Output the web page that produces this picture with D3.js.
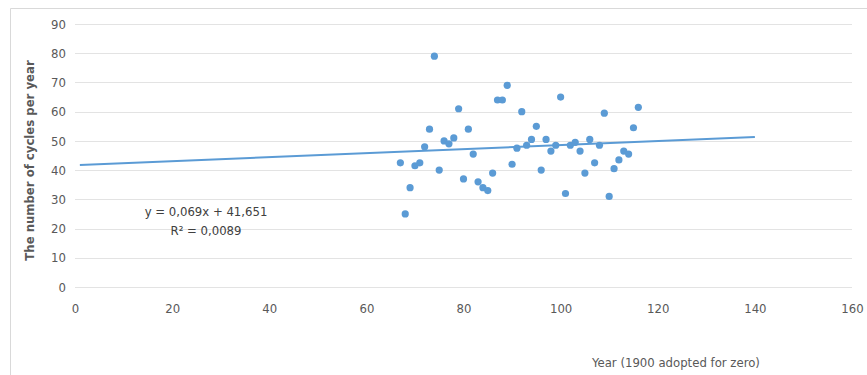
<!DOCTYPE html>
<html>
<head>
<meta charset="utf-8">
<script src="https://cdn.jsdelivr.net/npm/d3@7"></script>
<style>
  body { margin: 0; background: #fff; }
  svg text { font-family: "Liberation Sans Narrow", "DejaVu Sans Condensed", sans-serif; fill: #595959; }
</style>
</head>
<body>
<div id="chart"></div>
<script>
// Year offset from 1900 and number of cycles in that year
const years = [67, 68, 69, 70, 71, 72, 73, 74, 75, 76, 77, 78, 79, 80, 81, 82, 83, 84, 85, 86,
  87, 88, 89, 90, 91, 92, 93, 94, 95, 96, 97, 98, 99, 100, 101, 102, 103, 104, 105, 106,
  107, 108, 109, 110, 111, 112, 113, 114, 115, 116];
const cycles = [42.5, 25, 34, 41.5, 42.5, 48, 54, 79, 40, 50, 49, 51, 61, 37, 54, 45.5, 36, 34, 33, 39,
  64, 64, 69, 42, 47.5, 60, 48.5, 50.5, 55, 40, 50.5, 46.5, 48.5, 65, 32, 48.5, 49.5, 46.5, 39, 50.5,
  42.5, 48.5, 59.5, 31, 40.5, 43.5, 46.5, 45.5, 54.5, 61.5];

const xTicks = [0, 20, 40, 60, 80, 100, 120, 140, 160];
const yTicks = [0, 10, 20, 30, 40, 50, 60, 70, 80, 90];

// linear trend reported on the chart
const slope = 0.069, intercept = 41.651;
const trendRange = [1, 140];
const eqLines = ["y = 0,069x + 41,651", "R² = 0,0089"];

const width = 867, height = 375;
const svg = d3.select('#chart').append('svg')
    .attr('width', width)
    .attr('height', height);

// outer frame (only top and left edges visible in the crop)
svg.append('path')
    .attr('d', `M10.5,${height} L10.5,8.5 L${width},8.5`)
    .attr('fill', 'none')
    .attr('stroke', '#d9d9d9');

const x = d3.scaleLinear().domain([0, 160]).range([75, 852]);
const y = d3.scaleLinear().domain([0, 90]).range([287, 24]);

// horizontal gridlines
svg.append('g')
    .selectAll('line')
    .data(yTicks)
    .enter()
    .append('line')
    .attr('x1', x(0))
    .attr('x2', x(160))
    .attr('y1', d => Math.round(y(d)) + 0.5)
    .attr('y2', d => Math.round(y(d)) + 0.5)
    .attr('stroke', '#e3e3e3')
    .attr('stroke-width', 1);

// y axis labels
const yAxis = svg.append('g')
    .attr('transform', `translate(${x(0)},0)`)
    .call(d3.axisLeft(y).tickValues(yTicks).tickSize(0).tickPadding(9));
yAxis.select('.domain').remove();
yAxis.selectAll('text')
    .style('font-size', '13px')
    .attr('fill', '#595959');

// x axis labels
const xAxis = svg.append('g')
    .attr('transform', `translate(0,${y(0)})`)
    .call(d3.axisBottom(x).tickValues(xTicks).tickSize(0).tickPadding(17));
xAxis.select('.domain').remove();
xAxis.selectAll('text')
    .style('font-size', '13px')
    .attr('fill', '#595959');

// axis titles
svg.append('text')
    .attr('transform', `translate(34,${(y(0) + y(90)) / 2 + 5}) rotate(-90)`)
    .attr('text-anchor', 'middle')
    .style('font-size', '13px')
    .style('font-weight', 'bold')
    .text('The number of cycles per year');

svg.append('text')
    .attr('x', 676)
    .attr('y', 367)
    .attr('text-anchor', 'middle')
    .style('font-size', '13px')
    .text('Year (1900 adopted for zero)');

// trend line
svg.append('line')
    .attr('x1', x(trendRange[0]))
    .attr('y1', y(slope * trendRange[0] + intercept))
    .attr('x2', x(trendRange[1]))
    .attr('y2', y(slope * trendRange[1] + intercept))
    .attr('stroke', '#5b9bd5')
    .attr('stroke-width', 2);

// scatter points
svg.append('g')
    .selectAll('circle')
    .data(years.map((yr, i) => ({ yr, c: cycles[i] })))
    .enter()
    .append('circle')
    .attr('cx', d => x(d.yr))
    .attr('cy', d => y(d.c))
    .attr('r', 3.6)
    .attr('fill', '#5b9bd5');

// trendline equation
svg.append('g')
    .selectAll('text')
    .data(eqLines)
    .enter()
    .append('text')
    .attr('x', 206)
    .attr('y', (d, i) => 216 + i * 19)
    .attr('text-anchor', 'middle')
    .style('font-size', '13px')
    .attr('fill', '#404040')
    .style('fill', '#404040')
    .text(d => d);
</script>
</body>
</html>
